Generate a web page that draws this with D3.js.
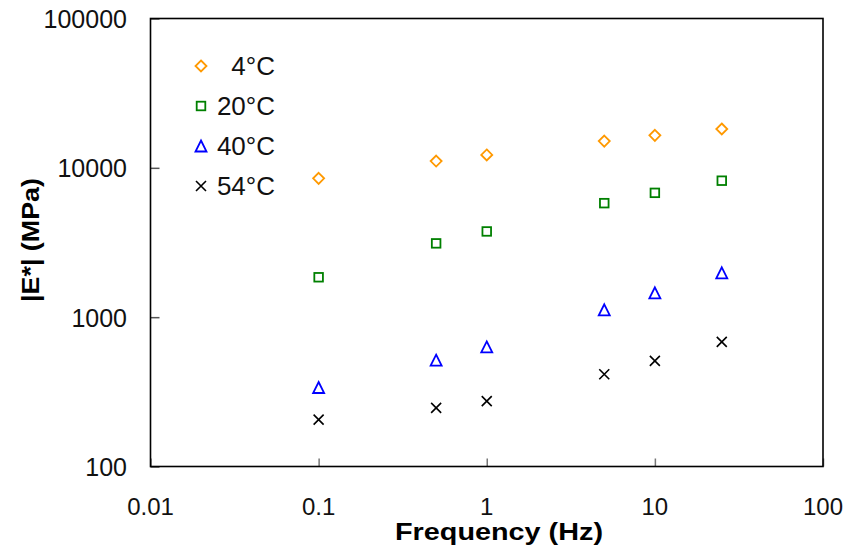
<!DOCTYPE html>
<html>
<head>
<meta charset="utf-8">
<script src="https://cdn.jsdelivr.net/npm/d3@7"></script>
<style>
  html, body { margin: 0; padding: 0; background: #fff; }
  svg { display: block; font-family: "Liberation Sans", Arial, sans-serif; }
</style>
</head>
<body>
<svg id="chart" width="850" height="546"></svg>
<script>
// ---- data ----
const frequencies = [0.1, 0.5, 1, 5, 10, 25];
const seriesNames = ["4°C", "20°C", "40°C", "54°C"];
const values4C  = [8500, 11100, 12200, 15100, 16500, 18200];
const values20C = [1850, 3120, 3750, 5800, 6800, 8200];
const values40C = [338, 515, 632, 1120, 1455, 1980];
const values54C = [206, 247, 274, 415, 510, 683];
const xTickValues = [0.01, 0.1, 1, 10, 100];
const yTickValues = [100, 1000, 10000, 100000];
const xTitle = "Frequency (Hz)";
const yTitle = "|E*| (MPa)";

const seriesValues = [values4C, values20C, values40C, values54C];
const seriesColors = ["#FF9900", "#008000", "#0000FF", "#000000"];
const seriesSymbols = ["diamond", "square", "triangle", "cross"];

const svg = d3.select("#chart");
const margin = {left: 150.5, top: 18.5, right: 850 - 823, bottom: 546 - 466.5};
const W = 850, H = 546;

const x = d3.scaleLog().domain([0.01, 100]).range([margin.left, W - margin.right]);
const y = d3.scaleLog().domain([100, 100000]).range([H - margin.bottom, margin.top]);

// ticks (inside)
const gx = svg.append("g").attr("transform", `translate(0,${y(100)})`)
  .call(d3.axisBottom(x).tickValues(xTickValues).tickSize(-8).tickPadding(0).tickFormat(() => ""));
gx.select(".domain").remove();
gx.selectAll(".tick line").attr("stroke", "#777").attr("stroke-width", 1.5);

const gy = svg.append("g").attr("transform", `translate(${x(0.01)},0)`)
  .call(d3.axisLeft(y).tickValues(yTickValues).tickSize(-9).tickFormat(() => ""));
gy.select(".domain").remove();
gy.selectAll(".tick line").attr("stroke", "#555").attr("stroke-width", 1.5);

// tick labels
svg.append("g").selectAll("text").data(xTickValues).join("text")
  .attr("x", d => x(d)).attr("y", 515)
  .attr("text-anchor", "middle").attr("font-size", 24).attr("fill", "#111")
  .attr("textLength", d => d3.format("~g")(d).length === 1 ? null : null)
  .text(d => d3.format("~g")(d));

svg.append("g").selectAll("text").data(yTickValues).join("text")
  .attr("x", 127).attr("y", d => y(d) + 9.5)
  .attr("text-anchor", "end").attr("font-size", 25).attr("fill", "#111")
  .text(d => String(d));

// frame
svg.append("rect")
  .attr("x", x(0.01)).attr("y", y(100000))
  .attr("width", x(100) - x(0.01)).attr("height", y(100) - y(100000))
  .attr("fill", "none").attr("stroke", "#000").attr("stroke-width", 1.6);

// symbol drawer
function drawSymbol(g, type, color) {
  if (type === "diamond") {
    g.append("path").attr("d", "M0,-5.5L5.5,0L0,5.5L-5.5,0Z")
      .attr("fill", "none").attr("stroke", color).attr("stroke-width", 1.8);
  } else if (type === "square") {
    g.append("rect").attr("x", -4.3).attr("y", -4.3).attr("width", 8.6).attr("height", 8.6)
      .attr("fill", "none").attr("stroke", color).attr("stroke-width", 1.8);
  } else if (type === "triangle") {
    g.append("path").attr("d", "M0,-5.5L5.5,5.5L-5.5,5.5Z")
      .attr("fill", "none").attr("stroke", color).attr("stroke-width", 1.8);
  } else {
    g.append("path").attr("d", "M-5,-5L5,5M-5,5L5,-5")
      .attr("fill", "none").attr("stroke", color).attr("stroke-width", 1.6);
  }
}

// points
seriesValues.forEach((vals, si) => {
  const g = svg.append("g");
  g.selectAll("g").data(frequencies.map((f, i) => [f, vals[i]])).join("g")
    .attr("transform", d => `translate(${x(d[0])},${y(d[1])})`)
    .each(function() { drawSymbol(d3.select(this), seriesSymbols[si], seriesColors[si]); });
});

// legend
const legend = svg.append("g");
seriesNames.forEach((name, i) => {
  const cy = 66 + i * 40;
  const mg = legend.append("g").attr("transform", `translate(201,${cy})`);
  drawSymbol(mg, seriesSymbols[i], seriesColors[i]);
  legend.append("text").attr("x", 275).attr("y", cy + 8.5)
    .attr("text-anchor", "end").attr("font-size", 26).attr("fill", "#111")
    .text(name);
});

// axis titles
svg.append("text").attr("x", 499).attr("y", 540)
  .attr("text-anchor", "middle").attr("font-size", 23).attr("font-weight", "bold")
  .attr("textLength", 208).attr("lengthAdjust", "spacingAndGlyphs")
  .text(xTitle);

svg.append("text")
  .attr("transform", "translate(39,240) rotate(-90)")
  .attr("text-anchor", "middle").attr("font-size", 24).attr("font-weight", "bold")
  .attr("textLength", 124).attr("lengthAdjust", "spacingAndGlyphs")
  .text(yTitle);
</script>
</body>
</html>
